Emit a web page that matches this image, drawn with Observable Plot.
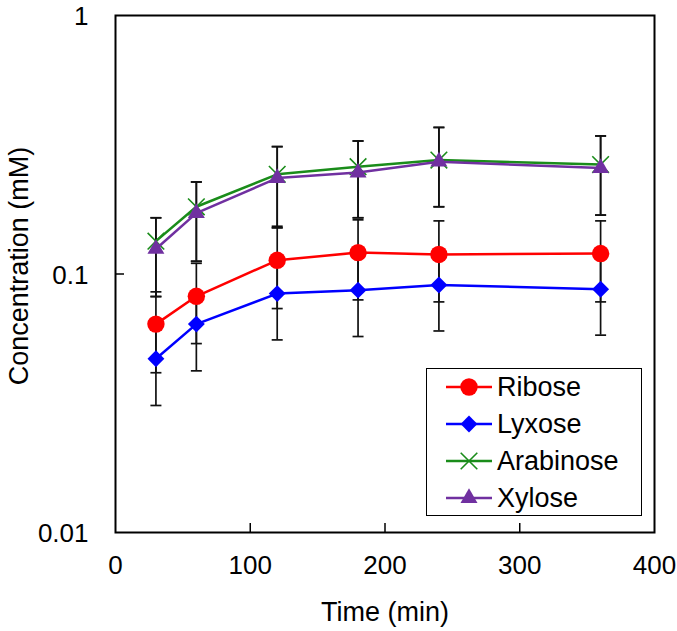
<!DOCTYPE html>
<html>
<head>
<meta charset="utf-8">
<script src="https://cdn.jsdelivr.net/npm/d3@7"></script>
<script src="https://cdn.jsdelivr.net/npm/@observablehq/plot@0.6"></script>
<style>
  html, body { margin: 0; padding: 0; background: #fff; }
  #wrap { position: relative; width: 677px; height: 631px; font-family: "Liberation Sans", Arial, sans-serif; }
  #legend { position: absolute; left: 426px; top: 368px; width: 216px; height: 148px; box-sizing: border-box; border: 1.5px solid #000; background: #fff; }
  .lg-row { position: absolute; left: 0; height: 30px; }
  .lg-row svg { position: absolute; left: 19px; top: 0; }
  .lg-row span { position: absolute; left: 70px; top: 50%; transform: translateY(-50%); font-size: 27px; line-height: 1; color: #000; white-space: nowrap; }
</style>
</head>
<body>
<div id="wrap"><div id="legend"></div></div>
<script>
// ---- data ----
const times = [30, 60, 120, 180, 240, 360];

const seriesNames = ["Ribose", "Lyxose", "Arabinose", "Xylose"];
const seriesColors = ["#FF0000", "#0000FF", "#1A8C1A", "#7030A0"];

const ribose     = [0.064, 0.082, 0.113, 0.121, 0.119, 0.120];
const riboseLow  = [0.0415, 0.0538, 0.0735, 0.0794, 0.078, 0.078];
const riboseHigh = [0.0853, 0.110, 0.153, 0.162, 0.1605, 0.1605];

const lyxose     = [0.047, 0.064, 0.084, 0.0866, 0.0907, 0.0873];
const lyxoseLow  = [0.031, 0.0422, 0.0556, 0.0573, 0.0602, 0.058];
const lyxoseHigh = [0.063, 0.086, 0.112, 0.116, 0.121, 0.117];

const arabinose     = [0.134, 0.182, 0.243, 0.260, 0.276, 0.265];
const arabinoseLow  = [0.0818, 0.112, 0.151, 0.165, 0.182, 0.169];
const arabinoseHigh = [0.165, 0.227, 0.311, 0.327, 0.369, 0.342];

const xylose     = [0.125, 0.172, 0.235, 0.247, 0.272, 0.257];
const xyloseLow  = [0.0818, 0.112, 0.151, 0.165, 0.182, 0.169];
const xyloseHigh = [0.165, 0.227, 0.311, 0.327, 0.369, 0.342];

const xTicks = [0, 100, 200, 300, 400];
const xInnerTicks = [100, 200, 300];
const yTicks = [0.01, 0.1, 1];
const yTickLabels = ["0.01", "0.1", "1"];
const yInnerTicks = [0.1];
const xLabel = "Time (min)";
const yLabel = "Concentration (mM)";

// ---- build tables ----
const values = [ribose, lyxose, arabinose, xylose];
const lows = [riboseLow, lyxoseLow, arabinoseLow, xyloseLow];
const highs = [riboseHigh, lyxoseHigh, arabinoseHigh, xyloseHigh];

const rows = [];
seriesNames.forEach((name, s) => {
  times.forEach((t, i) => rows.push({series: name, s, t, v: values[s][i], low: lows[s][i], high: highs[s][i]}));
});
const caps = rows.flatMap(d => [{t: d.t, y: d.low}, {t: d.t, y: d.high}]);

const capSymbol = {
  draw(context, size) {
    const w = Math.sqrt(size / Math.PI);
    context.moveTo(-w, 0);
    context.lineTo(w, 0);
  }
};

const symbolSpec = [
  {symbol: "circle", r: 8.7, fill: true},
  {symbol: "diamond2", r: 7.6, fill: true},
  {symbol: "times", r: 7.6, fill: false},
  {symbol: "triangle", r: 6.3, fill: true}
];

const W = 677, H = 631, mL = 115, mR = 23, mT = 15, mB = 99;
const plotW = W - mL - mR, plotH = H - mT - mB;

const marks = [
  Plot.ruleX(rows, {x: "t", y1: "low", y2: "high", stroke: "#111", strokeWidth: 1.7}),
  Plot.dot(caps, {x: "t", y: "y", symbol: capSymbol, r: 5.5, stroke: "#111", strokeWidth: 1.7, fill: "none"})
];
seriesNames.forEach((name, s) => {
  const data = rows.filter(d => d.s === s);
  marks.push(Plot.line(data, {x: "t", y: "v", stroke: seriesColors[s], strokeWidth: 2.5}));
  const sp = symbolSpec[s];
  marks.push(Plot.dot(data, {
    x: "t", y: "v", symbol: sp.symbol, r: sp.r,
    fill: sp.fill ? seriesColors[s] : "none",
    stroke: seriesColors[s], strokeWidth: sp.fill ? 0 : 1.6
  }));
});

marks.push(
  Plot.tickX(xInnerTicks, {x: d => d, insetTop: plotH - 9, stroke: "#000", strokeWidth: 1.5}),
  Plot.tickY(yInnerTicks, {y: d => d, insetRight: plotW - 9, stroke: "#000", strokeWidth: 1.5}),
  Plot.frame({stroke: "#000", strokeWidth: 2}),
  Plot.text(xTicks, {x: d => d, text: d => String(d), frameAnchor: "bottom", lineAnchor: "middle", dy: 33, fontSize: 26, fill: "#000"}),
  Plot.text(yTicks, {y: d => d, text: (d, i) => yTickLabels[i], frameAnchor: "left", lineAnchor: "middle", dx: -27, dy: 1.5, textAnchor: "end", fontSize: 26, fill: "#000"}),
  Plot.text([xLabel], {frameAnchor: "bottom", lineAnchor: "middle", dy: 80, fontSize: 27, fill: "#000"}),
  Plot.text([yLabel], {frameAnchor: "left", lineAnchor: "middle", dx: -96, dy: -8, rotate: -90, textAnchor: "middle", fontSize: 27, fill: "#000"})
);

const chart = Plot.plot({
  width: W, height: H,
  marginLeft: mL, marginRight: mR, marginTop: mT, marginBottom: mB,
  style: {fontFamily: "'Liberation Sans', Arial, sans-serif", background: "#fff", overflow: "visible"},
  x: {domain: [0, 400], axis: null},
  y: {type: "log", domain: [0.01, 1], axis: null},
  marks
});
document.getElementById("wrap").prepend(chart);

// ---- legend ----
const legend = document.getElementById("legend");
const rowCenters = [17.7, 55, 92, 129];
const typeMap = {circle: d3.symbolCircle, diamond2: d3.symbolDiamond2, times: d3.symbolTimes, triangle: d3.symbolTriangle};
seriesNames.forEach((name, s) => {
  const row = document.createElement("div");
  row.className = "lg-row";
  row.style.top = (rowCenters[s] - 15) + "px";
  row.style.width = "100%";
  const svg = d3.create("svg").attr("width", 50).attr("height", 30);
  svg.append("line").attr("x1", 0).attr("x2", 46).attr("y1", 15).attr("y2", 15)
    .attr("stroke", seriesColors[s]).attr("stroke-width", 2.5);
  const sp = symbolSpec[s];
  svg.append("path")
    .attr("transform", "translate(23,15)")
    .attr("d", d3.symbol(typeMap[sp.symbol], Math.PI * sp.r * sp.r)())
    .attr("fill", sp.fill ? seriesColors[s] : "none")
    .attr("stroke", seriesColors[s]).attr("stroke-width", sp.fill ? 0 : 1.6);
  row.appendChild(svg.node());
  const span = document.createElement("span");
  span.textContent = name;
  row.appendChild(span);
  legend.appendChild(row);
});
</script>
</body>
</html>
